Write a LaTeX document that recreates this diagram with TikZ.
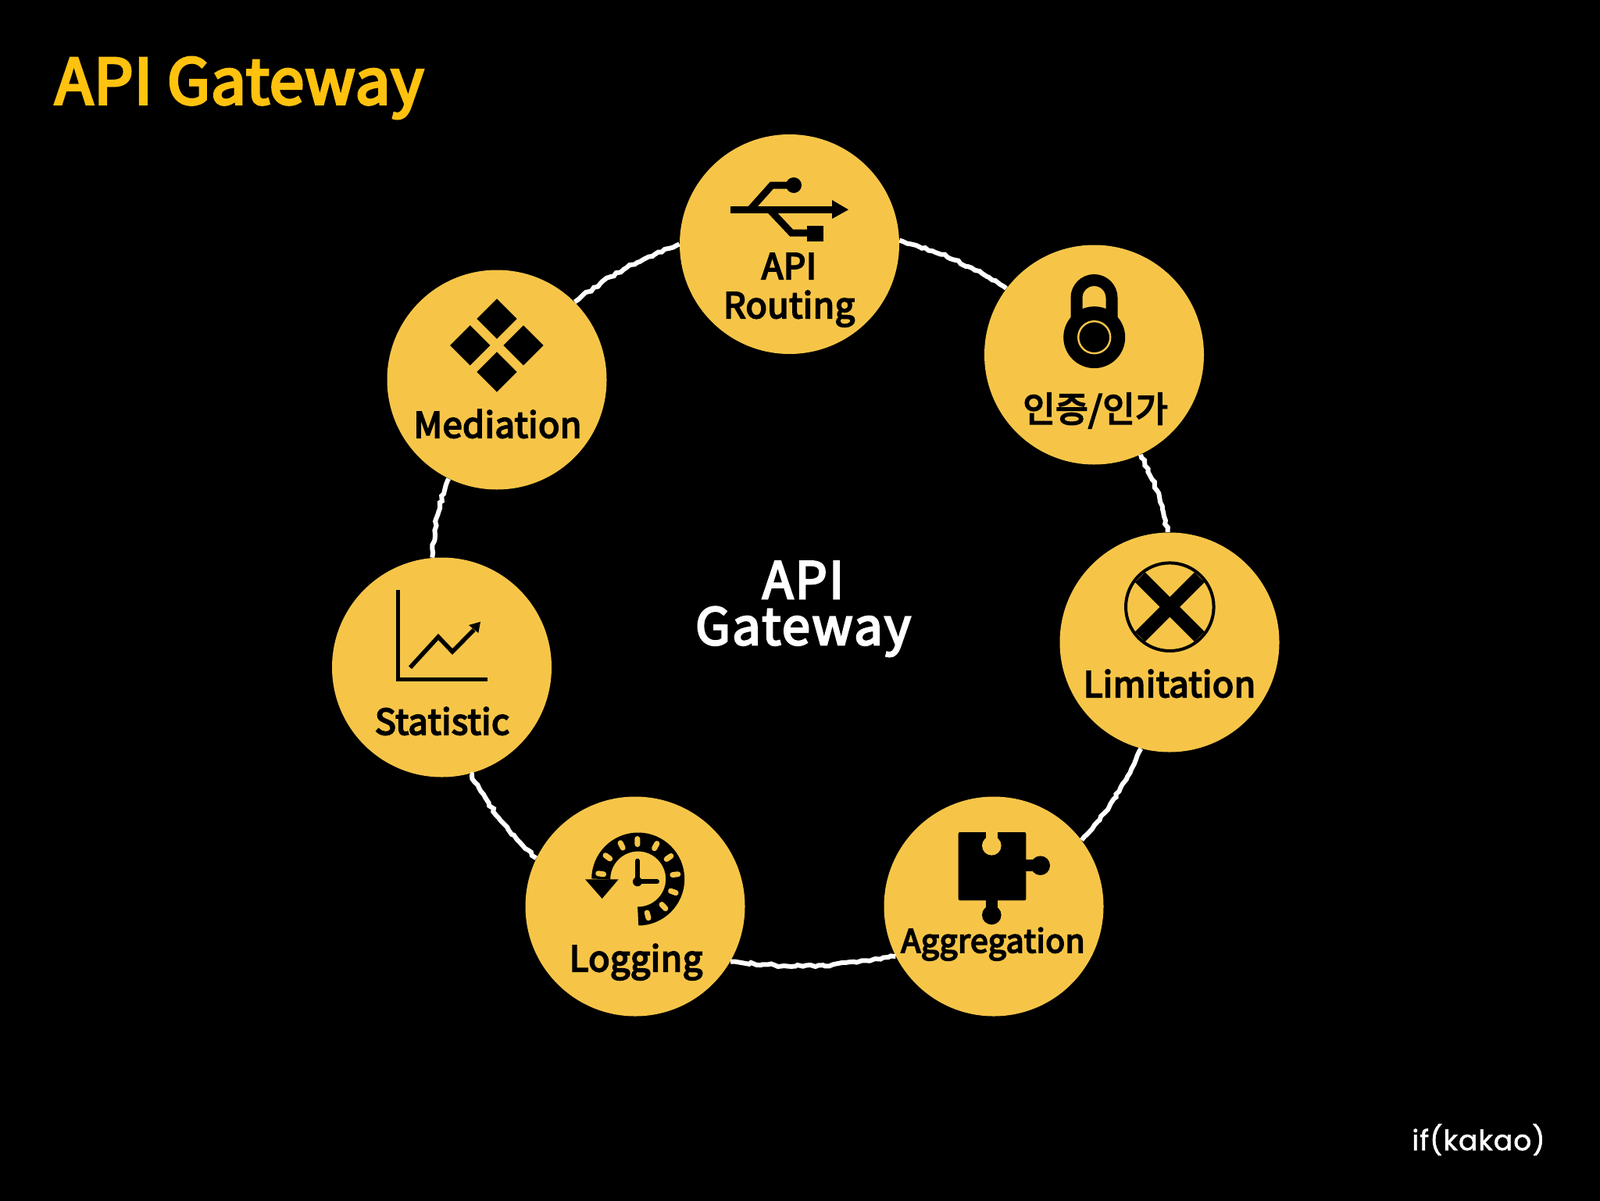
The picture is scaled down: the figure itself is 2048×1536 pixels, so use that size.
\documentclass[tikz,border=0pt]{standalone}
\usepackage{fontspec}
\setmainfont{Noto Sans CJK KR}
\newfontfamily\labelfont{Noto Sans CJK KR}[FakeBold=4.5, LetterSpace=1.2]
\newfontfamily\centerfont{Noto Sans CJK KR}[FakeBold=4, LetterSpace=3.5]
\newfontfamily\footfont{Poppins}[LetterSpace=2.8, FakeBold=1.5]
\usetikzlibrary{decorations.pathmorphing, positioning}

\definecolor{gatewayyellow}{HTML}{F6C548}
\definecolor{titleyellow}{HTML}{FFC20E}

\tikzset{
  item/.style={circle, fill=gatewayyellow, minimum size=140.5pt, inner sep=0pt},
  itemlabel/.style={anchor=base, inner sep=0pt, align=center, text=black,
    font=\fontsize{22.5}{25}\selectfont\labelfont},
  ring/.style={white, line width=3pt, decorate,
    decoration={random steps, segment length=2.5pt, amplitude=0.8pt}},
}

\begin{document}
\begin{tikzpicture}[x=0.5pt, y=-0.5pt]
  \useasboundingbox (0,0) rectangle (2048,1536);
  \fill[black] (-10,-10) rectangle (2058,1546);

  % Title and footer
  \node[anchor=base west, inner sep=0pt, text=titleyellow, font=\fontsize{40}{48}\selectfont\labelfont] (title) at (70,133) {API Gateway};
  \node[anchor=base east, inner sep=0pt, text=white, font=\fontsize{18}{22}\selectfont\footfont] (footer) at (1978,1472) {if(kakao)};

  % Centre
  \node[anchor=base, inner sep=0pt, align=center, text=white, font=\fontsize{32.5}{29.5}\selectfont\centerfont] (center) at (1028,825) {API\\Gateway};

  % Circles
  \node[item] (routing) at (1010.5,312.5) {};
  \node[item] (auth) at (1400.5,454) {};
  \node[item] (limitation) at (1497,822) {};
  \node[item] (aggregation) at (1272,1160) {};
  \node[item] (logging) at (813,1160) {};
  \node[item] (statistic) at (565.5,854) {};
  \node[item] (mediation) at (636,486) {};

  % Ring
  \draw[ring] (routing.2) to[bend left=8] (auth.143);
  \draw[ring] (auth.-65) to[bend left=8] (limitation.91);
  \draw[ring] (limitation.255) to[bend left=8] (aggregation.37);
  \draw[ring] (aggregation.207) to[bend left=8] (logging.-30);
  \draw[ring] (logging.154) to[bend left=8] (statistic.-75);
  \draw[ring] (statistic.95) to[bend left=8] (mediation.244);
  \draw[ring] (mediation.45) to[bend left=8] (routing.180);

  % Labels
  \node[itemlabel] (routinglabel) at (1010,407) {API\\Routing};
  \node[itemlabel] (authlabel) at (1402,540) {인증/인가};
  \node[itemlabel] (limitationlabel) at (1497,892) {Limitation};
  \node[itemlabel, font=\fontsize{20.5}{25}\selectfont\labelfont] (aggregationlabel) at (1271,1219) {Aggregation};
  \node[itemlabel] (logginglabel) at (814,1243) {Logging};
  \node[itemlabel] (statisticlabel) at (566,940) {Statistic};
  \node[itemlabel] (mediationlabel) at (637,560) {Mediation};

  % USB icon
  \draw[black, line width=4.5pt] (935,268.3) -- (1067,268.3);
  \fill[black] (1065,256) -- (1086,268.3) -- (1065,280) -- cycle;
  \draw[black, line width=4.5pt] (960,268.3) -- (988,237) -- (1015,237);
  \fill[black] (1016,237) circle (10);
  \draw[black, line width=4.5pt] (985,268.3) -- (1013,298) -- (1040,298);
  \fill[black] (1033,289) rectangle (1054,309);

  % Lock icon
  \draw[black, line width=7.5pt] (1378,420) -- (1378,381) arc[start angle=180, end angle=360, radius=22.5] -- (1423,420);
  \fill[black] (1400.7,431.7) circle (39.5);
  \draw[gatewayyellow, line width=1.2pt] (1400.7,431.7) circle (20.5);

  % Crossing icon
  \draw[black, line width=2pt] (1497.3,776.7) circle (56.3);
  \draw[black, line width=9pt] (1459.3,738.7) -- (1535.3,814.7);
  \draw[black, line width=9pt] (1535.3,738.7) -- (1459.3,814.7);

  % Puzzle icon
  \fill[black, rounded corners=1pt] (1226.7,1065) rectangle (1313.3,1152.3);
  \fill[gatewayyellow] (1269.3,1082.3) circle (12.3);
  \fill[gatewayyellow] (1262,1063) rectangle (1276.6,1078);
  \fill[black] (1331.7,1107.7) circle (12.3);
  \fill[black] (1312,1100.4) rectangle (1326,1115);
  \fill[black] (1269.3,1171) circle (12.3);
  \fill[black] (1262,1151) rectangle (1276.6,1166);

  % Clock icon
  \draw[black, line width=12pt] (816.7,1172.5) arc[start angle=90, end angle=-180, radius=47.5];
  \fill[black] (749,1125.3) -- (791.7,1125.3) -- (770.7,1150) -- cycle;
  \foreach \a in {172,144,116,91,62,35,7,-20,-47,-75}
    \draw[gatewayyellow, line width=3.5pt, line cap=round] (816.7,1125) ++(-\a:44.5) -- ++(-\a:7);
  \draw[black, line width=3pt, line cap=round] (816,1101.7) -- (816,1128.3) -- (841,1128.3);
  \fill[black] (816,1128.3) circle (6);

  % Chart icon
  \draw[black, line width=2.5pt] (509,755) -- (509,869.3) -- (624,869.3);
  \draw[black, line width=2.75pt] (525,854.3) -- (561,815) -- (579,834) -- (606.7,806);
  \fill[black] (615,795.7) -- (600,800) -- (612.3,810) -- cycle;

  % Diamonds icon
  \foreach \cx/\cy in {636/408, 601.7/442, 670/442, 636/476}
    \fill[black] (\cx,\cy-25.7) -- (\cx+25.7,\cy) -- (\cx,\cy+25.7) -- (\cx-25.7,\cy) -- cycle;
\end{tikzpicture}
\end{document}
